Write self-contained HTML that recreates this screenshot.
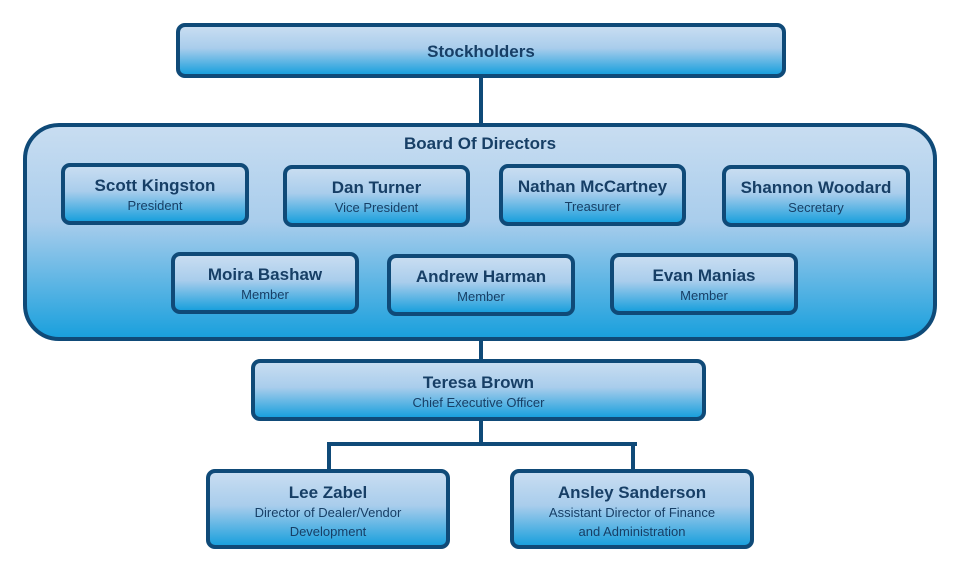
<!DOCTYPE html>
<html><head><style>
body{margin:0;width:967px;height:582px;background:#fff;position:relative;overflow:hidden;font-family:"Liberation Sans",sans-serif;color:#173f66}
.b{position:absolute;box-sizing:border-box;border:4px solid #0f4a78;border-radius:9px;background:linear-gradient(#c8ddf1 0%,#a9cdec 45%,#1aa0dd 100%);text-align:center}
.n{font-weight:bold;font-size:17px;line-height:20px}
.t{font-size:13px;line-height:19px}
.l{position:absolute;background:#0f4a78}
</style></head><body>
<div class="l" style="left:479px;top:75px;width:4px;height:50px"></div>
<div class="l" style="left:479px;top:338px;width:4px;height:23px"></div>
<div class="l" style="left:479px;top:418px;width:4px;height:27px"></div>
<div class="l" style="left:327px;top:442px;width:310px;height:4px"></div>
<div class="l" style="left:327px;top:442px;width:4px;height:29px"></div>
<div class="l" style="left:631px;top:442px;width:4px;height:29px"></div>

<div class="b" style="left:176px;top:23px;width:610px;height:55px;padding-top:15px"><div class="n">Stockholders</div></div>

<div class="b" style="left:23px;top:123px;width:914px;height:218px;border-radius:36px;background:linear-gradient(#c8ddf1 0%,#a9cdec 45%,#1aa0dd 100%)">
<div class="n" style="margin-top:7px">Board Of Directors</div></div>

<div class="b" style="left:61px;top:163px;width:188px;height:62px;padding-top:9px"><div class="n">Scott Kingston</div><div class="t">President</div></div>
<div class="b" style="left:283px;top:165px;width:187px;height:62px;padding-top:9px"><div class="n">Dan Turner</div><div class="t">Vice President</div></div>
<div class="b" style="left:499px;top:164px;width:187px;height:62px;padding-top:9px"><div class="n">Nathan McCartney</div><div class="t">Treasurer</div></div>
<div class="b" style="left:722px;top:165px;width:188px;height:62px;padding-top:9px"><div class="n">Shannon Woodard</div><div class="t">Secretary</div></div>
<div class="b" style="left:171px;top:252px;width:188px;height:62px;padding-top:9px"><div class="n">Moira Bashaw</div><div class="t">Member</div></div>
<div class="b" style="left:387px;top:254px;width:188px;height:62px;padding-top:9px"><div class="n">Andrew Harman</div><div class="t">Member</div></div>
<div class="b" style="left:610px;top:253px;width:188px;height:62px;padding-top:9px"><div class="n">Evan Manias</div><div class="t">Member</div></div>

<div class="b" style="left:251px;top:359px;width:455px;height:62px;padding-top:10px"><div class="n">Teresa Brown</div><div class="t">Chief Executive Officer</div></div>

<div class="b" style="left:206px;top:469px;width:244px;height:80px;padding-top:10px"><div class="n">Lee Zabel</div><div class="t">Director of Dealer/Vendor<br>Development</div></div>
<div class="b" style="left:510px;top:469px;width:244px;height:80px;padding-top:10px"><div class="n">Ansley Sanderson</div><div class="t">Assistant Director of Finance<br>and Administration</div></div>
</body></html>
